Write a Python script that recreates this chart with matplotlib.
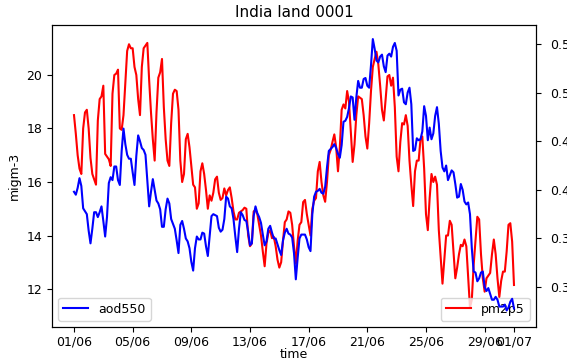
import matplotlib
matplotlib.use('Agg')
import matplotlib.pyplot as plt
import matplotlib.dates as mdates
import pandas as pd

# 3-hourly series (one row per day)
times = pd.date_range('2019-06-01', '2019-07-01', freq='3h')

pm2p5 = [18.5, 17.8, 17.0, 16.5, 16.3, 18.0, 18.6, 18.7,
         18.0, 16.9, 16.3, 16.1, 15.9, 18.3, 19.1, 19.2,
         19.6, 17.05, 16.95, 16.85, 16.6, 19.3, 20.0, 20.05,
         20.2, 18.0, 17.95, 18.5, 19.7, 20.9, 21.15, 21.0,
         21.0, 20.3, 20.0, 19.1, 18.5, 20.3, 21.0, 21.1,
         21.2, 19.8, 18.6, 17.6, 16.8, 18.6, 19.9, 20.1,
         20.6, 18.8, 17.6, 16.8, 16.6, 18.2, 19.3, 19.45,
         19.4, 18.7, 16.8, 16.0, 16.3, 17.6, 17.8, 17.3,
         16.6, 15.9, 15.8, 15.0, 15.2, 16.4, 16.7, 16.3,
         15.7, 15.0, 15.5, 15.3, 15.6, 16.1, 16.2, 15.6,
         15.33, 15.4, 15.76, 15.5, 15.7, 15.8, 15.4, 14.9,
         14.6, 14.6, 14.85, 14.9, 14.95, 15.04, 15.0, 14.0,
         13.6, 13.7, 14.9, 14.95, 14.8, 14.4, 14.0, 13.4,
         12.85, 13.7, 14.1, 14.2, 13.9, 13.95, 13.6, 13.1,
         12.8, 13.0, 13.8, 14.5, 14.6, 14.9, 14.85, 14.4,
         13.6, 12.95, 13.8, 14.4, 14.5, 15.25, 15.33, 14.8,
         14.4, 14.0, 15.0, 15.3, 15.4, 16.4, 16.75, 16.0,
         15.5, 15.26, 16.0, 17.0, 17.2, 17.5, 17.78, 17.3,
         16.4, 17.3, 18.7, 18.9, 18.75, 19.4, 19.0, 17.9,
         16.75, 17.4, 18.5, 19.2, 19.15, 19.1, 18.5, 17.7,
         17.25, 18.2, 19.4, 20.3, 20.6, 20.87, 20.4, 19.6,
         18.7, 18.3, 19.1, 19.95, 20.0, 19.6, 19.9, 18.8,
         16.95, 16.4, 17.5, 18.2, 18.15, 18.5, 18.1, 16.8,
         15.9, 15.1, 16.4, 16.8, 16.8, 17.6, 17.7, 16.5,
         14.8, 14.2, 15.4, 16.3, 16.0, 16.2, 15.9, 14.2,
         13.2, 12.2, 13.1, 14.0, 14.0, 14.55, 14.4, 13.4,
         12.4, 12.8, 13.3, 13.65, 13.6, 13.85, 13.6, 12.45,
         11.3, 11.6, 12.9, 13.8, 14.7, 14.6, 13.3, 12.4,
         11.9, 12.4, 12.5, 12.6, 13.3, 13.85, 13.3, 12.4,
         11.7, 12.3, 12.65, 12.65, 13.4, 14.4, 14.46, 13.77,
         12.15]

aod550 = [0.398, 0.395, 0.402, 0.412, 0.404, 0.381, 0.378, 0.375,
          0.358, 0.345, 0.360, 0.377, 0.377, 0.372, 0.377, 0.383,
          0.368, 0.352, 0.372, 0.407, 0.413, 0.410, 0.424, 0.424,
          0.410, 0.405, 0.440, 0.463, 0.447, 0.436, 0.432, 0.432,
          0.418, 0.405, 0.435, 0.456, 0.450, 0.443, 0.441, 0.436,
          0.410, 0.383, 0.398, 0.411, 0.400, 0.389, 0.386, 0.380,
          0.362, 0.362, 0.380, 0.391, 0.386, 0.370, 0.365, 0.360,
          0.348, 0.335, 0.364, 0.368, 0.360, 0.350, 0.347, 0.340,
          0.326, 0.317, 0.340, 0.352, 0.349, 0.349, 0.356, 0.355,
          0.342, 0.332, 0.352, 0.373, 0.375, 0.374, 0.373, 0.361,
          0.357, 0.359, 0.370, 0.393, 0.391, 0.383, 0.381, 0.370,
          0.352, 0.336, 0.360, 0.377, 0.374, 0.369, 0.368, 0.357,
          0.343, 0.345, 0.373, 0.383, 0.376, 0.372, 0.366, 0.354,
          0.343, 0.347, 0.360, 0.363, 0.356, 0.350, 0.350, 0.344,
          0.338, 0.333, 0.348, 0.356, 0.360, 0.355, 0.354, 0.351,
          0.335, 0.308, 0.330, 0.350, 0.354, 0.354, 0.354, 0.349,
          0.341, 0.337, 0.375, 0.393, 0.398, 0.399, 0.401, 0.397,
          0.396, 0.403, 0.423, 0.440, 0.442, 0.444, 0.447, 0.443,
          0.437, 0.433, 0.446, 0.470, 0.471, 0.475, 0.484, 0.496,
          0.495, 0.472, 0.495, 0.512, 0.505, 0.505, 0.514, 0.515,
          0.507, 0.505, 0.528, 0.555, 0.545, 0.533, 0.531, 0.537,
          0.539, 0.527, 0.521, 0.538, 0.540, 0.537, 0.547, 0.551,
          0.543, 0.497, 0.503, 0.504, 0.490, 0.488, 0.500, 0.505,
          0.488, 0.440, 0.441, 0.453, 0.451, 0.452, 0.460, 0.486,
          0.476, 0.451, 0.464, 0.452, 0.458, 0.476, 0.485, 0.468,
          0.440, 0.423, 0.419, 0.425, 0.410, 0.415, 0.420, 0.418,
          0.406, 0.392, 0.393, 0.406, 0.400, 0.388, 0.385, 0.387,
          0.375, 0.340, 0.316, 0.315, 0.306, 0.309, 0.315, 0.316,
          0.300, 0.296, 0.299, 0.293, 0.287, 0.287, 0.290, 0.287,
          0.280, 0.280, 0.280, 0.282, 0.276, 0.279, 0.285, 0.288,
          0.278]

plt.rcParams['font.size'] = 9

fig = plt.figure(figsize=(5.67, 3.63), dpi=100)
ax1 = fig.add_axes([0.0917, 0.0992, 0.8536, 0.832])
ax1.plot(times, pm2p5, color='red', lw=1.5, label='pm2p5')
ax1.set_ylim(10.58, 21.87)
ax1.set_ylabel('migm-3')
ax1.set_xlabel('time', labelpad=0)
ax1.set_title('India land 0001', fontsize=11)
ax1.xaxis.set_major_locator(mdates.DayLocator(bymonthday=[1, 5, 9, 13, 17, 21, 25, 29]))
ax1.xaxis.set_major_formatter(mdates.DateFormatter('%d/%m'))
ax1.tick_params(axis='x', pad=2.5)
ax1.legend(loc='lower right')

ax2 = ax1.twinx()
ax2.plot(times, aod550, color='blue', lw=1.5, label='aod550')
ax2.set_ylim(0.259, 0.5695)
ax2.tick_params(axis='y', pad=6.5)
ax2.legend(loc='lower left')

fig.savefig('out.png', dpi=100)
